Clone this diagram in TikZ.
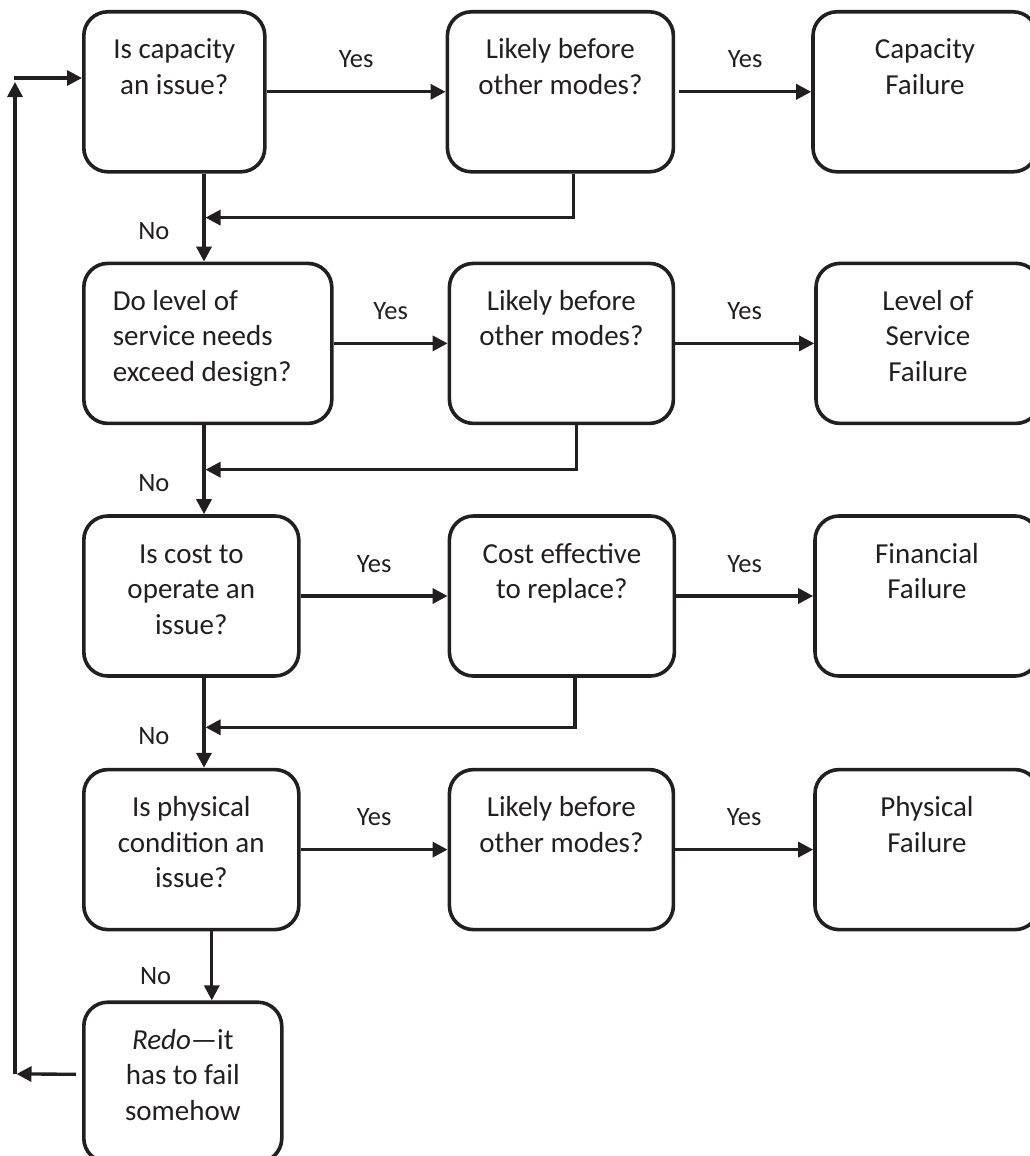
\documentclass[tikz,border=0pt]{standalone}
\usepackage{fontspec}
\setmainfont{Carlito}
\usepackage{tikz}
\usetikzlibrary{arrows.meta, positioning, calc}
\definecolor{inkgray}{RGB}{35,31,32}
\newcommand{\boxfont}{\fontsize{29}{35.5}\selectfont}
\newcommand{\lblfont}{\fontsize{26.5}{32}\selectfont}
\tikzset{
  basebox/.style={rectangle,rounded corners=24pt,draw=inkgray,line width=3.6pt,text=inkgray,align=center,font=\boxfont,
    inner xsep=6pt,inner ysep=0pt},
  twoline/.style={text height=82.5pt,text depth=77.5pt},
  threeline/.style={text height=118pt,text depth=42pt},
  qnode/.style={basebox},
  failnode/.style={basebox,minimum width=224pt},
  arr/.style={-{Triangle[length=15pt,width=15pt]},line width=3.3pt,draw=inkgray},
  lblnode/.style={font=\lblfont,text=inkgray,inner sep=0pt}
}

\begin{document}
\begin{tikzpicture}[x=1pt,y=1pt]
  \useasboundingbox (0,0) rectangle (1029,-1156);

  % questions, left column
  \node[qnode,twoline,minimum width=181pt,anchor=north west] (capQ) at (82,-10) {Is capacity\\an issue?};
  \node[qnode,minimum width=248pt,text width=190pt,inner xsep=29pt,align=left,text height=47pt,text depth=113pt,
        below=88pt of capQ.south west,anchor=north west] (losQ) {\spaceskip=0pt\relax Do level of\\service needs\\exceed design?};
  \node[qnode,threeline,minimum width=215pt,below=89pt of losQ.south west,anchor=north west] (finQ) {Is cost to\\operate an\\issue?};
  \node[qnode,threeline,minimum width=215pt,below=90pt of finQ.south west,anchor=north west] (phyQ) {Is physical\\condition an\\issue?};
  \node[qnode,threeline,minimum width=198pt,below=69pt of phyQ.south west,anchor=north west] (redo) {\textit{Redo}---it\\has to fail\\somehow};

  % second checks
  \node[failnode,twoline,minimum width=226pt,right=179pt of capQ] (capLk) {Likely before\\other modes?};
  \node[failnode,twoline,right=114pt of losQ] (losLk) {Likely before\\other modes?};
  \node[failnode,twoline,minimum width=225pt,right=147pt of finQ] (finCe) {Cost effective\\to replace?};
  \node[failnode,twoline,right=147pt of phyQ] (phyLk) {Likely before\\other modes?};

  % failure modes
  \node[failnode,twoline,right=136pt of capLk] (capF) {Capacity\\Failure};
  \node[failnode,threeline,right=139pt of losLk] (losF) {Level of\\Service\\Failure};
  \node[failnode,twoline,right=137pt of finCe] (finF) {Financial\\Failure};
  \node[failnode,twoline,right=138pt of phyLk] (phyF) {Physical\\Failure};

  \coordinate (spine) at (204,0);
  \coordinate (loop) at (15,-78);
  \coordinate (back) at (15,-1074);

  % yes branches
  \draw[arr] (capQ.east) -- (capLk.west) node[lblnode,midway,above=22pt] {Yes};
  \draw[arr] (losQ.east) -- (losLk.west) node[lblnode,midway,above=22pt] {Yes};
  \draw[arr] (finQ.east) -- (finCe.west) node[lblnode,midway,above=22pt] {Yes};
  \draw[arr] (phyQ.east) -- (phyLk.west) node[lblnode,midway,above=22pt] {Yes};
  \draw[arr] ([xshift=4pt]capLk.east) -- (capF.west) node[lblnode,midway,above=22pt] {Yes};
  \draw[arr] (losLk.east) -- (losF.west) node[lblnode,midway,above=22pt] {Yes};
  \draw[arr] (finCe.east) -- (finF.west) node[lblnode,midway,above=22pt] {Yes};
  \draw[arr] (phyLk.east) -- (phyF.west) node[lblnode,midway,above=22pt] {Yes};

  % no branches
  \draw[arr] (capQ.south -| spine) -- (losQ.north -| spine) node[lblnode,pos=0.65,left=33pt] {No};
  \draw[arr] (losQ.south -| spine) -- (finQ.north -| spine) node[lblnode,pos=0.65,left=33pt] {No};
  \draw[arr] (finQ.south -| spine) -- (phyQ.north -| spine) node[lblnode,pos=0.65,left=33pt] {No};
  \draw[arr] ([xshift=20.5pt]phyQ.south) -- ([xshift=20.5pt]phyQ.south |- redo.north) node[lblnode,pos=0.65,left=39pt] {No};

  % back to the question column
  \draw[arr,shorten >=1.5pt] ([xshift=13pt]capLk.south) |- ($(capQ.south -| spine)!0.5!(losQ.north -| spine)$);
  \draw[arr,shorten >=1.5pt] ([xshift=15pt]losLk.south) |- ($(losQ.south -| spine)!0.5!(finQ.north -| spine)$);
  \draw[arr,shorten >=1.5pt] ([xshift=13pt]finCe.south) |- ($(finQ.south -| spine)!0.55!(phyQ.north -| spine)$);

  % redo loop
  \draw[arr,shorten >=1.5pt] ([xshift=-6pt,yshift=8pt]redo.west) -- (back);
  \draw[arr] (back) -- ([yshift=-4pt]loop);
  \draw[arr] ([xshift=-1.5pt]loop) -- (capQ.west |- loop);
\end{tikzpicture}
\end{document}
